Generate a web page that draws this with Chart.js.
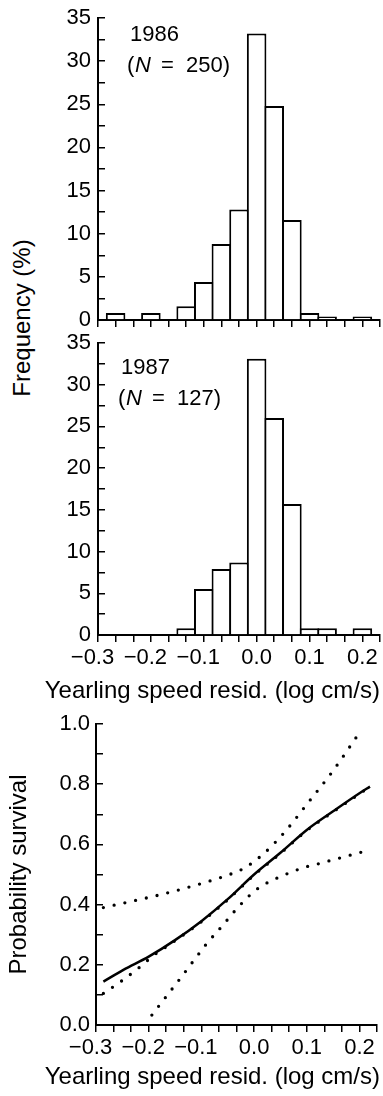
<!DOCTYPE html>
<html>
<head>
<meta charset="utf-8">
<title>Yearling speed and survival</title>
<script src="https://cdn.jsdelivr.net/npm/chart.js"></script>
<style>
  html, body { margin: 0; padding: 0; background: #fff; }
  #page { position: relative; width: 383px; height: 1096px; overflow: hidden; }
  canvas { position: absolute; left: 0; }
  #freqTitle {
    position: absolute; left: 22px; top: 318px;
    transform: translate(-50%, -50%) rotate(-90deg);
    font: 24px "Liberation Sans", Arial, sans-serif; color: #000; white-space: nowrap;
  }
</style>
</head>
<body>
<div id="page">
  <div id="freqTitle">Frequency (%)</div>
  <canvas id="chart1986" width="383" height="335" style="top:0px"></canvas>
  <canvas id="chart1987" width="383" height="380" style="top:325px"></canvas>
  <canvas id="chartSurvival" width="383" height="391" style="top:705px"></canvas>
</div>
<script>
// histogram bins (bin centres, log cm/s) and frequencies (%)
const binCenters = [-0.2667, -0.2333, -0.2, -0.1667, -0.1333, -0.1, -0.0667, -0.0333, 0, 0.0333, 0.0667, 0.1, 0.1333, 0.1667, 0.2];
const freq1986 = [0.8, 0, 0.8, 0, 1.6, 4.4, 8.8, 12.8, 33.2, 24.8, 11.6, 0.8, 0.4, 0, 0.4];
const freq1987 = [0, 0, 0, 0, 0.8, 5.5, 7.9, 8.7, 33.1, 26.0, 15.7, 0.8, 0.8, 0, 0.8];
const years = ['1986', '1987'];
const sampleSizes = [250, 127];

// x axis: tick every 1/30, labels every 0.1
const speedTicks = [-0.3, -0.2667, -0.2333, -0.2, -0.1667, -0.1333, -0.1, -0.0667, -0.0333, 0, 0.0333, 0.0667, 0.1, 0.1333, 0.1667, 0.2, 0.2333];
const speedLabelValues = [-0.3, -0.2, -0.1, 0, 0.1, 0.2];
const speedLabels = ['\u22120.3', '\u22120.2', '\u22120.1', '0.0', '0.1', '0.2'];
const speedTitle = 'Yearling speed resid. (log cm/s)';

// y axes
const freqTicks = [0, 2.5, 5, 7.5, 10, 12.5, 15, 17.5, 20, 22.5, 25, 27.5, 30, 32.5, 35];
const probTicks = [0, 0.1, 0.2, 0.3, 0.4, 0.5, 0.6, 0.7, 0.8, 0.9, 1.0];
const probLabelValues = [0, 0.2, 0.4, 0.6, 0.8, 1.0];

// survival curve (solid) and the dotted curves
const fitX = [-0.286, -0.248, -0.2, -0.15, -0.1, -0.05, 0, 0.05, 0.1, 0.15, 0.2, 0.22];
const fitY = [0.144, 0.183, 0.227, 0.282, 0.345, 0.418, 0.5, 0.572, 0.648, 0.71, 0.77, 0.792];
const upperX = [-0.286, -0.24, -0.18, -0.12, -0.06, -0.02, 0.02, 0.06, 0.1, 0.15, 0.198];
const upperY = [0.39, 0.408, 0.432, 0.46, 0.492, 0.52, 0.572, 0.645, 0.733, 0.845, 0.966];
const lowerX = [-0.194, -0.167, -0.14, -0.115, -0.09, -0.06, -0.032, -0.01, 0.01, 0.03, 0.05, 0.075, 0.1, 0.125, 0.15, 0.18, 0.207];
const lowerY = [0.033, 0.094, 0.155, 0.213, 0.27, 0.33, 0.388, 0.428, 0.457, 0.477, 0.493, 0.511, 0.526, 0.537, 0.549, 0.563, 0.576];
const altX = [-0.286, -0.25, -0.22, -0.19, -0.165, -0.15, -0.1, -0.05, 0, 0.05, 0.1, 0.15, 0.2, 0.215];
const altY = [0.105, 0.148, 0.188, 0.232, 0.262, 0.28, 0.343, 0.416, 0.498, 0.57, 0.646, 0.708, 0.768, 0.786];

const ink = '#000';
const fontFamily = '"Liberation Sans", Arial, sans-serif';
Chart.defaults.font.family = fontFamily;
Chart.defaults.color = ink;

function zip(xs, ys) {
  return xs.map((x, i) => ({ x: x, y: ys[i] }));
}

function toBars(freqs) {
  return binCenters.map((x, i) => ({ x: x, y: freqs[i] })).filter(p => p.y > 0);
}

function speedLabel(value) {
  const i = speedLabelValues.findIndex(v => Math.abs(v - value) < 1e-6);
  if (i < 0) return '';
  // minus sign hangs to the left of the number, as in the print
  return value < 0 ? speedLabels[i] + '\u2002' : speedLabels[i];
}

// keep the plot box exactly where the layout padding puts it
function fixWidth(w) {
  return s => { s.width = w; s.paddingTop = 0; s.paddingBottom = 0; };
}
function fixHeight(h) {
  return s => { s.height = h; s.paddingLeft = 0; s.paddingRight = 0; };
}

// "1986 / (N = 250)" note in the upper left of each histogram
const panelNote = {
  id: 'panelNote',
  afterDraw(chart, args, opts) {
    if (!opts || !opts.year) return;
    const ctx = chart.ctx;
    const x = chart.chartArea.left + opts.dx;
    const y = chart.chartArea.top + opts.dy;
    const normal = '22px ' + fontFamily;
    ctx.save();
    ctx.fillStyle = ink;
    ctx.textBaseline = 'middle';
    ctx.font = normal;
    ctx.fillText(opts.year, x + 3, y);
    const y2 = y + 31;
    ctx.fillText('(', x, y2);
    ctx.font = 'italic ' + normal;
    ctx.fillText('N', x + 8, y2);
    ctx.font = normal;
    ctx.fillText('=', x + 34, y2);
    ctx.fillText(opts.n + ')', x + 59, y2);
    ctx.restore();
  }
};

// x axis title, right aligned and not squeezed to the plot width
const xCaption = {
  id: 'xCaption',
  afterDraw(chart, args, opts) {
    if (!opts || !opts.text) return;
    const ctx = chart.ctx;
    ctx.save();
    ctx.fillStyle = ink;
    ctx.font = '24px ' + fontFamily;
    ctx.textAlign = 'right';
    ctx.textBaseline = 'alphabetic';
    ctx.fillText(opts.text, chart.chartArea.right + opts.dx, chart.chartArea.bottom + opts.dy);
    ctx.restore();
  }
};
Chart.register(panelNote, xCaption);

function speedAxis(showLabels, height) {
  return {
    type: 'linear',
    min: speedTicks[0],
    max: speedTicks[speedTicks.length - 1],
    offset: false,
    afterBuildTicks: s => { s.ticks = speedTicks.map(v => ({ value: v })); },
    afterFit: fixHeight(height),
    grid: { drawOnChartArea: false, offset: false, color: ink, lineWidth: 1.5, tickLength: 7 },
    border: { color: ink, width: 2 },
    ticks: {
      autoSkip: false, maxRotation: 0, minRotation: 0, padding: 3,
      color: ink, font: { size: 22 },
      callback: v => showLabels ? speedLabel(v) : ''
    }
  };
}

function freqAxis() {
  return {
    min: 0, max: 35,
    afterBuildTicks: s => { s.ticks = freqTicks.map(v => ({ value: v })); },
    afterFit: fixWidth(98),
    grid: { drawOnChartArea: false, color: ink, lineWidth: 1.5, tickLength: -7 },
    border: { color: ink, width: 2 },
    ticks: {
      autoSkip: false, padding: 14, color: ink, font: { size: 22 },
      callback: v => v % 5 === 0 ? String(v) : ''
    }
  };
}

function histogram(id, freqs, k, showLabels, canvasPad, xHeight, note) {
  return new Chart(document.getElementById(id), {
    type: 'bar',
    data: {
      datasets: [{
        data: toBars(freqs),
        backgroundColor: '#fff',
        borderColor: ink,
        borderWidth: 2,
        borderSkipped: 'start',
        categoryPercentage: 1,
        barPercentage: 1.11
      }]
    },
    options: {
      responsive: false,
      animation: false,
      layout: { padding: canvasPad },
      plugins: {
        legend: { display: false },
        tooltip: { enabled: false },
        panelNote: { year: years[k], n: sampleSizes[k], dx: note.dx, dy: note.dy },
        xCaption: showLabels ? { text: speedTitle, dx: 0, dy: 63 } : {}
      },
      scales: { x: speedAxis(showLabels, xHeight), y: freqAxis() }
    }
  });
}

histogram('chart1986', freq1986, 0, false, { top: 18, right: 3, bottom: 1, left: 0 }, 14, { dx: 29, dy: 17 });
histogram('chart1987', freq1987, 1, true, { top: 18, right: 3, bottom: 1, left: 0 }, 69, { dx: 20, dy: 25 });

const dotted = {
  borderColor: ink, borderWidth: 3.3, borderDash: [0, 11], borderCapStyle: 'round',
  pointRadius: 0, fill: false, cubicInterpolationMode: 'monotone'
};

new Chart(document.getElementById('chartSurvival'), {
  type: 'line',
  data: {
    datasets: [
      { data: zip(fitX, fitY), borderColor: ink, borderWidth: 2.5, pointRadius: 0, fill: false, cubicInterpolationMode: 'monotone' },
      Object.assign({ data: zip(upperX, upperY) }, dotted),
      Object.assign({ data: zip(lowerX, lowerY) }, dotted),
      Object.assign({ data: zip(altX, altY) }, dotted)
    ]
  },
  options: {
    responsive: false,
    animation: false,
    layout: { padding: { top: 19, right: 6, bottom: 11, left: 0 } },
    plugins: {
      legend: { display: false },
      tooltip: { enabled: false },
      xCaption: { text: speedTitle, dx: 3, dy: 59 }
    },
    scales: {
      x: speedAxis(true, 60),
      y: {
        min: 0, max: 1,
        afterBuildTicks: s => { s.ticks = probTicks.map(v => ({ value: v })); },
        afterFit: fixWidth(96),
        grid: { drawOnChartArea: false, color: ink, lineWidth: 1.5, tickLength: -7 },
        border: { color: ink, width: 2 },
        ticks: {
          autoSkip: false, padding: 13, color: ink, font: { size: 22 },
          callback: v => probLabelValues.some(p => Math.abs(p - v) < 1e-6) ? v.toFixed(1) : ''
        },
        title: {
          display: true, text: 'Probability survival', color: ink,
          font: { size: 24 }, padding: { top: 5, bottom: 0 }
        }
      }
    }
  }
});
</script>
</body>
</html>
